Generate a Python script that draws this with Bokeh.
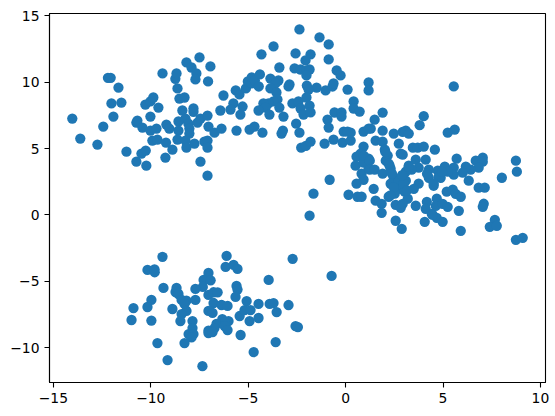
from bokeh.plotting import figure
from bokeh.models import Range1d, FixedTicker
from bokeh.embed import file_html
from bokeh.resources import INLINE

x_ticks = [-15, -10, -5, 0, 5, 10]
y_ticks = [-10, -5, 0, 5, 10, 15]

cluster_left = [
 (-14.03,7.26),(-13.62,5.75),(-12.74,5.30),(-12.44,6.66),(-11.92,7.41),(-12.02,8.40),(-11.51,8.47),
 (-12.2,10.33),(-12.06,10.33),(-11.66,9.60),(-11.25,4.77),(-10.74,4.01),(-10.48,4.62),(-10.26,4.85),
 (-10.23,3.71),(-10.74,6.96),(-10.69,7.11),(-10.43,6.58),(-10.02,7.41),(-10.02,6.36),(-9.71,6.51),
 (-10.28,8.32),(-10.02,8.55),(-9.87,8.85),(-9.61,8.09),(-9.40,10.66),(-9.92,5.60),(-9.66,5.68),
 (-9.25,4.32),(-9.22,5.45),(-9.2,6.81),(-9.05,6.51),(-8.89,4.92),(-8.74,10.26),(-8.68,10.66),
 (-8.63,9.53),(-8.53,8.77),(-8.27,8.85),(-8.38,7.87),(-8.58,7.04),(-8.58,6.36),(-8.63,5.68),
 (-8.22,7.26),(-8.07,6.88),(-8.02,6.51),(-8.02,6.13),(-8.22,5.60),(-8.17,5.07),(-7.76,5.37),
 (-7.81,8.02),(-7.81,7.77),(-7.6,6.96),(-7.45,7.26),(-7.09,7.49),(-7.04,6.66),(-8.17,11.49),
 (-7.91,11.11),(-7.66,10.66),(-7.71,10.21),(-7.5,11.87),(-6.94,11.19),(-7.06,10.06),(-7.25,5.53),
 (-7.09,5.6),(-7.09,5.07),(-7.45,4.01),(-7.09,2.96),
]
cluster_middle = [
 (-6.27,9.0),(-5.64,9.38),(-5.45,9.08),(-5.12,9.53),(-5.02,10.06),(-4.82,10.36),(-4.82,9.91),
 (-4.66,10.13),(-4.46,9.68),(-4.4,10.59),(-4.32,12.1),(-3.7,12.7),(-3.86,10.28),(-3.45,10.13),
 (-3.6,9.91),(-3.4,11.11),(-3.86,9.53),(-3.55,9.23),(-3.5,8.7),(-3.7,8.55),(-3.96,8.4),(-4.22,8.4),
 (-4.11,8.09),(-4.47,7.87),(-3.91,7.56),(-3.4,8.09),(-3.19,7.41),(-2.88,9.83),(-2.93,9.68),
 (-5.76,8.4),(-5.91,7.94),(-5.29,8.17),(-5.4,7.56),(-6.43,7.87),(-6.73,6.2),(-6.37,6.51),(-5.6,6.36),
 (-4.93,6.43),(-4.68,6.66),(-4.27,6.2),(-3.29,6.13),(-3.22,6.36),(-2.37,13.98),(-1.34,13.38),
 (-0.87,12.85),(-2.57,12.17),(-1.8,12.1),(-2.06,11.64),(-0.87,11.72),(-2.62,11.04),(-2.31,10.96),
 (-2.01,10.89),(-1.85,10.96),(-2.01,10.51),(-0.46,10.89),(-0.26,10.51),(-1.99,9.75),(-1.49,9.6),
 (-1.9,9.45),(-1.03,9.38),(-0.67,9.68),(-0.62,9.91),(0.1,9.45),(1.18,9.98),(1.18,9.38),(-2.73,8.4),
 (-2.42,8.55),(-2.01,8.85),(-2.31,8.02),(-1.85,8.24),(-2.16,7.56),(-1.8,7.72),(-2.54,6.88),(-2.37,6.2),
 (-2.28,5.07),(-2.04,5.2),(-1.8,5.53),(-1.08,5.37),(-0.93,7.19),(-0.87,6.58),(-0.57,7.72),(-0.21,7.72),
 (-0.21,7.41),(0.41,8.55),(0.41,8.02),(0.72,7.79),(-0.62,5.68),(-0.16,5.45),(0.26,5.6),(-0.1,6.28),
 (0.26,6.2),(0.1,6.28),(0.92,6.28),(1.18,6.51),(0.92,5.15),(0.77,4.62),(0.56,4.39),(0.51,3.71),
 (0.92,3.94),(0.82,3.11),(0.92,2.65),(0.56,2.35),(-0.82,2.65),(-1.65,1.6),(0.15,1.52),(0.61,1.37),
 (0.82,1.37),(1.18,4.24),(1.18,3.49),(-1.85,-0.06),
]
cluster_right = [
 (1.9,7.71),(1.49,7.18),(1.29,6.5),(1.9,6.35),(2.47,6.13),(2.93,6.25),(3.09,6.35),(3.24,6.13),
 (4.01,7.44),(3.8,6.76),(2.73,5.37),(1.54,5.6),(1.9,5.52),(0.93,4.47),(1.24,4.09),(2.01,4.92),
 (2.16,4.47),(2.06,4.09),(2.26,3.71),(2.83,4.62),(2.93,4.54),(3.45,5.07),(3.7,5.07),(4.01,5.15),
 (4.58,4.92),(3.6,4.16),(4.11,4.16),(3.24,3.71),(3.75,3.56),(3.09,3.26),(3.39,3.41),(4.27,3.41),
 (4.73,3.33),(1.24,3.41),(1.49,3.41),(1.9,3.11),(2.31,3.48),(2.47,2.8),(2.31,2.35),(2.73,2.58),
 (3.09,2.58),(2.52,1.97),(2.83,1.97),(3.75,2.35),(3.5,1.97),(4.52,2.2),(4.27,2.8),(1.44,1.97),
 (2.21,1.37),(2.52,1.6),(3.03,1.75),(3.19,1.22),(1.54,1.07),(1.85,0.84),(1.85,0.16),(2.57,0.76),
 (2.83,0.54),(2.93,0.84),(3.6,0.69),(4.17,0.99),(4.11,0.46),(4.68,1.22),(4.63,0.69),(4.42,0.08),
 (4.68,-0.22),(4.06,-0.52),(2.57,-0.44),(2.88,-1.05),(5.55,9.68),(5.6,6.43),(5.24,6.2),(5.7,4.24),
 (8.74,4.09),(8.79,3.26),(8.02,2.8),(7.04,4.31),(6.68,4.09),(7.04,4.01),(6.83,3.56),(6.42,3.41),
 (6.17,3.63),(6.01,3.18),(6.32,2.58),(5.55,3.56),(5.55,3.03),(5.09,3.63),(5.24,3.26),(4.88,2.8),
 (6.83,2.05),(7.14,2.05),(5.19,1.75),(5.5,1.9),(5.65,1.59),(5.91,1.37),(4.98,0.84),(5.24,0.61),
 (5.81,0.31),(7.09,0.84),(7.04,0.61),(4.47,0.01),(4.98,-0.52),(5.91,-1.2),(7.66,-0.37),(7.4,-0.9),
 (7.76,-0.82),(8.74,-1.88),(9.09,-1.73),
 (2.04,4.75),(2.21,3.87),(2.38,3.11),(2.98,2.36),(3.24,3.62),(2.47,2.1),(2.9,2.99),(2.3,1.47),
 (3.15,1.85),(4.18,3.11),(4.78,2.86),(4.95,3.24),(4.52,2.36),
]
cluster_bottom = [
 (-9.4,-3.16),(-10.17,-4.15),(-9.81,-4.1),(-9.8,-4.32),(-6.11,-3.09),(-6.16,-3.92),(-5.75,-3.77),
 (-5.55,-4.07),(-2.72,-3.31),(-0.72,-4.6),(-7.04,-4.37),(-7.29,-4.9),(-6.93,-4.93),(-7.33,-5.43),
 (-7.71,-5.58),(-3.95,-4.9),(-5.6,-5.35),(-5.55,-5.63),(-5.65,-6.18),(-9.35,-5.5),(-8.68,-5.5),
 (-8.73,-5.81),(-8.58,-5.96),(-9.97,-6.41),(-10.17,-6.94),(-10.89,-7.02),(-10.99,-7.92),(-9.97,-7.96),
 (-8.89,-7.09),(-8.42,-6.41),(-8.17,-6.46),(-7.71,-6.41),(-8.27,-6.71),(-8.17,-7.24),(-8.42,-7.47),
 (-8.48,-8.0),(-7.86,-8.0),(-7.86,-8.53),(-8.06,-8.98),(-7.81,-8.98),(-7.91,-9.23),(-8.27,-9.66),
 (-9.66,-9.66),(-9.14,-10.94),(-7.35,-11.4),(-7.04,-6.03),(-6.78,-5.83),(-6.57,-5.83),(-6.78,-6.64),
 (-6.37,-6.79),(-6.06,-6.86),(-7.04,-7.24),(-6.83,-7.39),(-6.33,-7.85),(-6.01,-8.0),(-6.21,-8.07),
 (-6.63,-8.22),(-6.73,-8.53),(-6.21,-8.38),(-6.06,-8.68),(-7.04,-8.73),(-7.04,-8.9),(-6.83,-8.83),
 (-5.39,-9.05),(-5.44,-7.62),(-5.08,-6.49),(-5.19,-7.17),(-4.88,-7.17),(-4.93,-8.0),(-4.47,-6.71),
 (-4.47,-7.77),(-3.9,-6.71),(-3.7,-6.64),(-3.54,-7.32),(-2.93,-6.79),(-2.57,-8.38),(-2.45,-8.45),
 (-3.59,-9.58),(-4.72,-10.34),
]

points = cluster_left + cluster_middle + cluster_right + cluster_bottom
xs = [pt[0] for pt in points]
ys = [pt[1] for pt in points]

p = figure(width=555, height=416, output_backend="svg", toolbar_location=None,
           x_range=Range1d(-15.2, 10.26), y_range=Range1d(-12.63, 15.18),
           min_border_left=49, min_border_right=10, min_border_top=13, min_border_bottom=34)
p.scatter(xs, ys, size=10.3, color="#1f77b4", line_color=None)

p.grid.visible = False
p.background_fill_color = "white"
p.outline_line_color = "black"
p.outline_line_width = 1.1
p.outline_line_alpha = 1
for ax, ticks in ((p.xaxis[0], x_ticks), (p.yaxis[0], y_ticks)):
    ax.ticker = FixedTicker(ticks=ticks)
    ax.minor_tick_line_color = None
    ax.major_tick_in = 0
    ax.major_tick_out = 5
    ax.major_tick_line_color = "black"
    ax.major_tick_line_width = 1.1
    ax.axis_line_color = "black"
    ax.axis_line_width = 1.1
    ax.major_label_text_font = "DejaVu Sans"
    ax.major_label_text_font_size = "13.9px"
    ax.major_label_text_color = "black"
    ax.major_label_standoff = 5
p.yaxis[0].major_label_orientation = "horizontal"

open("out.html", "w").write(file_html(p, INLINE))
